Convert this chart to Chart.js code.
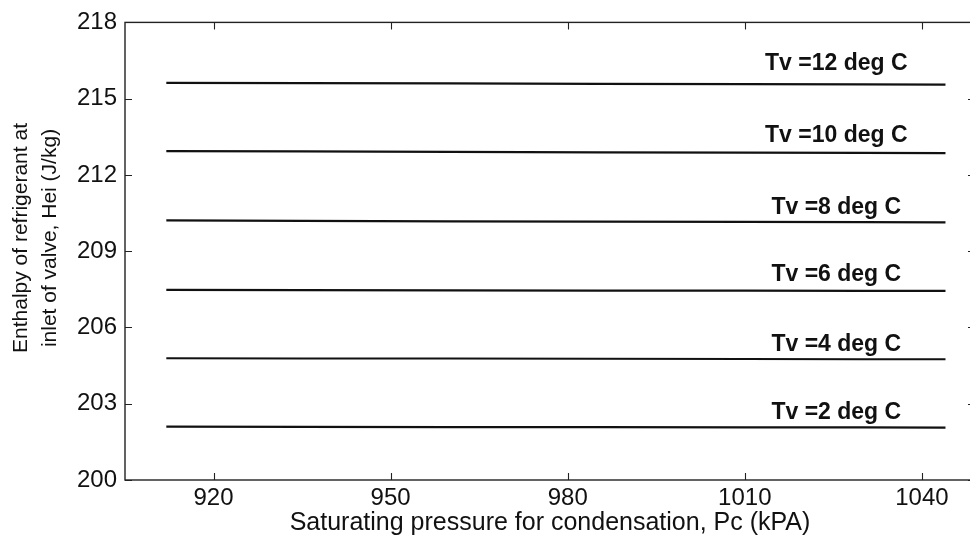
<!DOCTYPE html>
<html>
<head>
<meta charset="utf-8">
<script src="https://cdn.jsdelivr.net/npm/chart.js@4.4.0/dist/chart.umd.min.js"></script>
<style>
  html, body { margin: 0; padding: 0; background: #ffffff; overflow: hidden; }
  #wrap { width: 990px; height: 542px; position: relative; }
</style>
</head>
<body>
<div id="wrap"><canvas id="c" width="990" height="542"></canvas></div>
<script>
// Condensing pressure Pc (kPa) sampled along each curve
const pressure = [912, 935, 960, 985, 1010, 1030, 1044];

// Evaporator temperature of each curve (deg C)
const tvLevels = [12, 10, 8, 6, 4, 2];

// Enthalpy at valve inlet, Hei (J/kg), one array per Tv
const hei12 = [215.62, 215.61, 215.60, 215.58, 215.57, 215.56, 215.55];
const hei10 = [212.94, 212.93, 212.91, 212.89, 212.88, 212.87, 212.86];
const hei8  = [210.21, 210.19, 210.17, 210.16, 210.15, 210.14, 210.13];
const hei6  = [207.48, 207.47, 207.46, 207.45, 207.45, 207.44, 207.44];
const hei4  = [204.79, 204.78, 204.78, 204.77, 204.76, 204.75, 204.75];
const hei2  = [202.10, 202.09, 202.08, 202.08, 202.07, 202.07, 202.06];

const heiSeries = [hei12, hei10, hei8, hei6, hei4, hei2];

// Axis ticks
const xTicks = [920, 950, 980, 1010, 1040];
const yTicks = [200, 203, 206, 209, 212, 215, 218];

const xTitle = 'Saturating pressure for condensation, Pc (kPA)';
const yTitle = ['Enthalpy of refrigerant at', 'inlet of valve, Hei (J/kg)'];

const FONT = '"Liberation Sans", Arial, Helvetica, sans-serif';
const INK = '#111111';

// How far (px) each curve label sits above its curve
const labelLift = [21, 17, 15, 16, 15, 15];

const datasets = heiSeries.map((vals, i) => ({
  label: 'Tv =' + tvLevels[i] + ' deg C',
  data: pressure.map((p, j) => ({ x: p, y: vals[j] })),
  borderColor: INK,
  borderWidth: 2.2,
  pointRadius: 0,
  fill: false,
  tension: 0
}));

// Axes box with inward tick marks, curve labels and the two-line y title
const framePlugin = {
  id: 'frame',
  afterDatasetsDraw(chart) {
    const { ctx, chartArea: a, scales: { x, y } } = chart;
    ctx.save();
    ctx.strokeStyle = '#222222';
    ctx.lineWidth = 1.4;
    ctx.strokeRect(a.left, a.top, a.right - a.left, a.bottom - a.top);
    const len = 7;
    ctx.beginPath();
    xTicks.forEach(v => {
      const px = Math.round(x.getPixelForValue(v)) + 0.5;
      ctx.moveTo(px, a.bottom); ctx.lineTo(px, a.bottom - len);
      ctx.moveTo(px, a.top); ctx.lineTo(px, a.top + len);
    });
    yTicks.forEach(v => {
      const py = Math.round(y.getPixelForValue(v)) + 0.5;
      ctx.moveTo(a.left, py); ctx.lineTo(a.left + len, py);
      ctx.moveTo(a.right, py); ctx.lineTo(a.right - len, py);
    });
    ctx.lineWidth = 1.1;
    ctx.stroke();

    // curve labels, set just above the right end of each curve
    ctx.fillStyle = INK;
    ctx.font = 'bold 23px ' + FONT;
    ctx.textAlign = 'center';
    ctx.textBaseline = 'middle';
    chart.data.datasets.forEach((ds, i) => {
      const last = ds.data[ds.data.length - 1];
      const lx = x.getPixelForValue(1025.5);
      const ly = y.getPixelForValue(last.y) - labelLift[i];
      ctx.fillText(ds.label, lx, ly);
    });

    // y-axis title
    ctx.font = '21px ' + FONT;
    ctx.translate(0, 238);
    ctx.rotate(-Math.PI / 2);
    ctx.fillText(yTitle[0], 0, 21);
    ctx.fillText(yTitle[1], 0, 50);
    ctx.restore();
  }
};

new Chart(document.getElementById('c'), {
  type: 'line',
  data: { datasets },
  plugins: [framePlugin],
  options: {
    responsive: false,
    animation: false,
    devicePixelRatio: 1,
    layout: { padding: { top: 18, right: 15, left: 0, bottom: 0 } },
    plugins: { legend: { display: false }, tooltip: { enabled: false } },
    scales: {
      x: {
        type: 'linear',
        min: 905,
        max: 1049,
        afterBuildTicks: s => { s.ticks = xTicks.map(v => ({ value: v })); },
        afterFit: s => { s.height = 62; },
        grid: { display: false, drawTicks: false },
        border: { display: false },
        ticks: {
          color: INK,
          font: { family: FONT, size: 24 },
          padding: 4,
          maxRotation: 0,
          callback: v => String(v)
        },
        title: {
          display: true,
          text: xTitle,
          color: INK,
          font: { family: FONT, size: 25 },
          padding: { top: 0, bottom: 4 }
        }
      },
      y: {
        type: 'linear',
        min: 200,
        max: 218,
        afterBuildTicks: s => { s.ticks = yTicks.map(v => ({ value: v })); },
        afterFit: s => { s.width = 125; },
        grid: { display: false, drawTicks: false },
        border: { display: false },
        ticks: {
          color: INK,
          font: { family: FONT, size: 24 },
          padding: 8,
          callback: v => String(v)
        }
      }
    }
  }
});
</script>
</body>
</html>
